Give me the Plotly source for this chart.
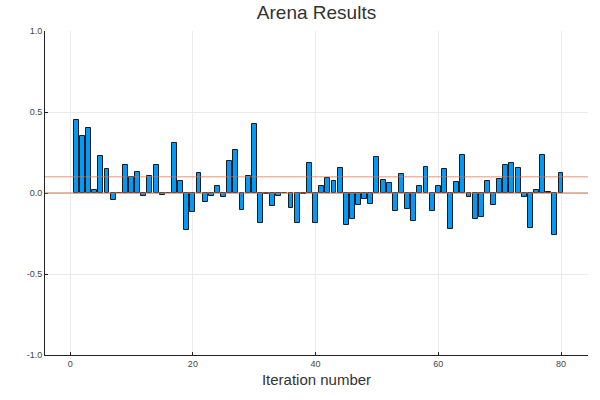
import plotly.graph_objects as go

iterations = list(range(1, 81))
results = [
    0.45, 0.352, 0.40, 0.02, 0.226, 0.146, -0.043, 0.0, 0.173, 0.10,
    0.13, -0.019, 0.105, 0.173, -0.014, 0.0, 0.309, 0.072, -0.228, -0.119,
    0.123, -0.053, -0.016, 0.045, -0.025, 0.20, 0.263, -0.105, 0.105, 0.424,
    -0.185, -0.005, -0.08, -0.019, 0.0, -0.095, -0.183, -0.005, 0.187, -0.185,
    0.045, 0.093, 0.072, 0.152, -0.195, -0.158, -0.074, -0.035, -0.066, 0.222,
    0.08, 0.064, -0.109, 0.117, -0.099, -0.175, 0.045, 0.16, -0.109, 0.045,
    0.146, -0.22, 0.066, 0.232, -0.025, -0.16, -0.146, 0.072, -0.074, 0.086,
    0.173, 0.183, 0.152, -0.025, -0.214, 0.016, 0.232, 0.008, -0.26, 0.123,
]
ref_level = 0.1
ytick_vals = [-1.0, -0.5, 0.0, 0.5, 1.0]
ytick_text = ["-1.0", "-0.5", "0.0", "0.5", "1.0"]
xtick_vals = [0, 20, 40, 60, 80]

fig = go.Figure()
fig.add_trace(go.Bar(
    x=iterations, y=results, width=0.8,
    marker=dict(color="#009af9", line=dict(color="#1a1a1a", width=1)),
    showlegend=False,
))
fig.add_hline(y=0, line=dict(color="#d0704e", width=1))
fig.add_hline(y=ref_level, line=dict(color="rgba(226,111,70,0.5)", width=1.5))

fig.update_layout(
    width=600, height=400,
    margin=dict(l=45, r=12, t=31, b=45, autoexpand=False),
    paper_bgcolor="white", plot_bgcolor="white",
    font=dict(family="Liberation Sans, Arial, sans-serif", color="#444"),
    title=dict(text="Arena Results", x=0.5, xref="paper", xanchor="center",
               y=0.97, yanchor="middle", font=dict(size=19, color="#333")),
    bargap=0,
    xaxis=dict(
        range=[-4.1, 84.4], tickvals=xtick_vals, showgrid=True, gridcolor="#ebebeb",
        zeroline=False, showline=True, linecolor="#222", linewidth=1, automargin=False,
        ticks="inside", ticklen=3, tickcolor="#222", tickfont=dict(size=9, color="#444"),
        title=dict(text="Iteration number", font=dict(size=15, color="#333"), standoff=6),
    ),
    yaxis=dict(
        range=[-1.0, 1.0], tickvals=ytick_vals, ticktext=ytick_text, showgrid=True,
        gridcolor="#ebebeb", zeroline=False, showline=True, linecolor="#222", linewidth=1,
        automargin=False,
        ticks="inside", ticklen=3, tickcolor="#222", tickfont=dict(size=9, color="#444"),
    ),
)
fig.write_html("out.html", config={"displayModeBar": False},
               post_script="document.body.style.margin='0px';")
